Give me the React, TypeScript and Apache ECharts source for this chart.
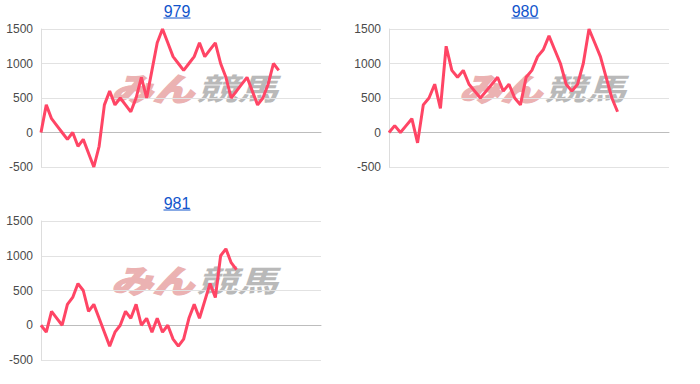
import React, { useEffect, useRef } from "react";
import * as echarts from "echarts";

const titles = ["979", "980", "981"];
const yTicks = { min: -500, max: 1500, interval: 500 };
const catCount979 = 54;
const catCount980 = 50;
const catCount981 = 54;
const series979 = [0, 400, 200, 100, 0, -100, 0, -200, -100, -300, -500, -200, 400, 600, 400, 500, 400, 300, 500, 800, 500, 900, 1300, 1500, 1300, 1100, 1000, 900, 1000, 1100, 1300, 1100, 1200, 1300, 1000, 800, 500, 600, 700, 800, 600, 400, 500, 700, 1000, 900];
const series980 = [0, 100, 0, 100, 200, -150, 400, 500, 700, 350, 1250, 900, 800, 900, 700, 600, 500, 600, 700, 800, 600, 700, 500, 400, 800, 900, 1100, 1200, 1400, 1200, 1000, 700, 600, 700, 1000, 1500, 1300, 1100, 800, 500, 300];
const series981 = [0, -100, 200, 100, 0, 300, 400, 600, 500, 200, 300, 100, -100, -300, -100, 0, 200, 100, 300, 0, 100, -100, 100, -100, 0, -200, -300, -200, 100, 300, 100, 350, 600, 400, 1000, 1100, 900, 800];

const makeCats = (n: number) => Array.from({ length: n }, (_, i) => String(i + 1));

const panels = [
  { left: 41, top: 29, width: 280, height: 138, cats: makeCats(catCount979), data: series979, titleX: 177, titleY: 11 },
  { left: 389, top: 29, width: 280, height: 138, cats: makeCats(catCount980), data: series980, titleX: 525, titleY: 11 },
  { left: 41, top: 221, width: 280, height: 139, cats: makeCats(catCount981), data: series981, titleX: 177, titleY: 203 },
];

const LINE_COLOR = "#ff4565";

export default function App() {
  const ref = useRef<HTMLDivElement>(null);
  useEffect(() => {
    if (!ref.current) return;
    const chart = echarts.init(ref.current, undefined, { renderer: "svg" });
    const graphics: any[] = [];
    panels.forEach((p, i) => {
      graphics.push({
        type: "text",
        x: p.titleX,
        y: p.titleY,
        style: {
          text: titles[i],
          fill: "#1155cc",
          font: "16px Arial, 'Liberation Sans', sans-serif",
          align: "center",
          verticalAlign: "middle",
        },
        z: 10,
      });
      graphics.push({
        type: "line",
        shape: { x1: p.titleX - 13.5, y1: p.titleY + 7, x2: p.titleX + 13.5, y2: p.titleY + 7 },
        style: { stroke: "#1155cc", lineWidth: 1 },
        z: 10,
      });
      const wx = p.left + 70;
      const wy = p.top + 42;
      graphics.push({
        type: "text",
        x: wx,
        y: wy,
        scaleX: 1.3,
        style: {
          text: "みん",
          fill: "#ebb2b2",
          font: "italic 900 32px 'Noto Sans CJK JP', sans-serif",
          align: "left",
          verticalAlign: "top",
          stroke: "#ebb2b2",
          lineWidth: 1.2,
        },
        z: 0,
      });
      graphics.push({
        type: "text",
        x: wx + 86,
        y: wy + 1,
        scaleX: 1.35,
        style: {
          text: "競馬",
          fill: "#b9b9b9",
          font: "italic bold 30px 'Noto Sans CJK JP', sans-serif",
          align: "left",
          verticalAlign: "top",
        },
        z: 0,
      });
    });

    chart.setOption({
      animation: false,
      graphic: graphics,
      grid: panels.map((p) => ({ left: p.left, top: p.top, width: p.width, height: p.height, containLabel: false })),
      xAxis: panels.map((p, i) => ({
        type: "category",
        gridIndex: i,
        data: p.cats,
        boundaryGap: false,
        axisLabel: { show: false },
        axisTick: { show: false },
        axisLine: { show: true, onZero: true, lineStyle: { color: "#bdbdbd", width: 1 } },
        splitLine: { show: false },
      })),
      yAxis: panels.map((p, i) => ({
        type: "value",
        gridIndex: i,
        min: yTicks.min,
        max: yTicks.max,
        interval: yTicks.interval,
        axisLabel: {
          color: "#4a4a4a",
          fontSize: 12,
          fontFamily: "Arial, 'Liberation Sans', sans-serif",
          margin: 8,
          formatter: (v: number) => String(v),
        },
        axisLine: { show: true, lineStyle: { color: "#dddddd" } },
        axisTick: { show: false },
        splitLine: { show: true, lineStyle: { color: "#e2e2e2", width: 1 } },
      })),
      series: panels.map((p, i) => ({
        type: "line",
        xAxisIndex: i,
        yAxisIndex: i,
        data: p.data,
        symbol: "none",
        lineStyle: { color: LINE_COLOR, width: 3 },
        itemStyle: { color: LINE_COLOR },
        z: 5,
      })),
    });
    return () => chart.dispose();
  }, []);
  return <div ref={ref} style={{ width: 700, height: 384, position: "absolute", left: 0, top: 0 }} />;
}
